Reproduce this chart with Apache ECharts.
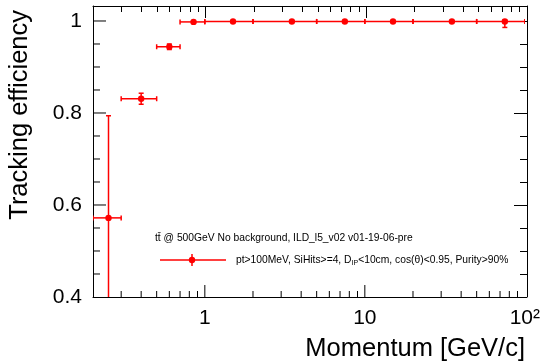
<!DOCTYPE html>
<html>
<head>
<meta charset="utf-8">
<script src="https://cdn.jsdelivr.net/npm/echarts@6/dist/echarts.min.js"></script>
<style>
  html, body { margin: 0; padding: 0; background: #fff; }
  #chart { width: 543px; height: 362px; }
</style>
</head>
<body>
<div id="chart"></div>
<script>
// momentum bins [GeV/c]
const binCenter = [0.25, 0.4, 0.6, 0.85, 1.5, 3.5, 7.5, 15, 35, 75];
const binLow = [0.2, 0.3, 0.5, 0.7, 1, 2, 5, 10, 20, 50];
const binHigh = [0.3, 0.5, 0.7, 1, 2, 5, 10, 20, 50, 100];
// tracking efficiency and its errors
const efficiency = [0.572, 0.831, 0.944, 0.998, 0.999, 0.999, 0.999, 0.999, 0.999, 0.999];
const errDown = [0.222, 0.012, 0.006, 0.003, 0.001, 0.001, 0.001, 0.001, 0.001, 0.013];
const errUp = [0.222, 0.012, 0.006, 0.002, 0.001, 0.001, 0.001, 0.001, 0.001, 0.003];

// tick positions for the bottom and left frame edges
const xMajorTicks = [1, 10];
const xMinorTicks = [0.3, 0.4, 0.5, 0.6, 0.7, 0.8, 0.9, 2, 3, 4, 5, 6, 7, 8, 9, 20, 30, 40, 50, 60, 70, 80, 90];
const yMajorTicks = [0.6, 0.8, 1];
const yMinorTicks = [0.45, 0.5, 0.55, 0.65, 0.7, 0.75, 0.85, 0.9, 0.95];

const legendHeader = "tt\u0304 @ 500GeV No background, ILD_l5_v02 v01-19-06-pre";
const legendEntry = "{n|pt>100MeV, SiHits>=4, D}{s|IP}{n|<10cm, cos(\u03b8)<0.95, Purity>90%}";
const FONT = "'Liberation Sans', Arial, Helvetica, sans-serif";
const RED = "#ff0000";
const xMin = 0.2, xMax = 100, yMin = 0.4, yMax = 1.0326;
const plotRect = { left: 93, right: 16, top: 6, bottom: 65 };

// top / right mirror axes: line + inward ticks (these render fine)
function xMirror() {
  return {
    type: "log", logBase: 10, min: xMin, max: xMax, position: "top", gridIndex: 1,
    axisLine: { show: true, onZero: false, lineStyle: { color: "#000", width: 1 } },
    axisTick: { show: true, inside: true, length: 12, lineStyle: { color: "#000", width: 1 } },
    minorTick: { show: true, splitNumber: 9, length: 6, lineStyle: { color: "#000", width: 1 } },
    axisLabel: { show: false },
    splitLine: { show: false }
  };
}

function yMirror() {
  return {
    type: "value", min: yMin, max: yMax, interval: 0.2, position: "right", gridIndex: 1,
    axisLine: { show: true, onZero: false, lineStyle: { color: "#000", width: 1 } },
    axisTick: { show: true, inside: true, length: 13, lineStyle: { color: "#000", width: 1 } },
    minorTick: { show: true, splitNumber: 4, length: 7, lineStyle: { color: "#000", width: 1 } },
    axisLabel: { show: false },
    splitLine: { show: false }
  };
}

function renderErrorPoint(params, api) {
  const x = api.value(0), y = api.value(1);
  const c = api.coord([x, y]);
  const l = api.coord([api.value(2), y]);
  const r = api.coord([api.value(3), y]);
  const lo = api.coord([x, api.value(4)]);
  const hi = api.coord([x, api.value(5)]);
  const st = { stroke: RED, lineWidth: 1.5 };
  const line = (x1, y1, x2, y2) => ({ type: "line", shape: { x1, y1, x2, y2 }, style: st });
  return {
    type: "group",
    children: [
      line(l[0], l[1], r[0], r[1]),
      line(lo[0], lo[1], hi[0], hi[1]),
      line(l[0], l[1] - 2.5, l[0], l[1] + 2.5),
      line(r[0], r[1] - 2.5, r[0], r[1] + 2.5),
      line(lo[0] - 2.5, lo[1], lo[0] + 2.5, lo[1]),
      line(hi[0] - 2.5, hi[1], hi[0] + 2.5, hi[1]),
      { type: "circle", shape: { cx: c[0], cy: c[1], r: 3.2 }, style: { fill: RED } }
    ]
  };
}

// bottom/left inward ticks, placed through the axis scales
// kind: 0 x major, 1 x minor, 2 y major, 3 y minor
function renderFrameTick(params, api) {
  const p = api.coord([api.value(0), api.value(1)]);
  const kind = api.value(2);
  const len = kind === 0 ? 12 : kind === 1 ? 6 : kind === 2 ? 13 : 7;
  const shape = kind < 2
    ? { x1: p[0], y1: p[1], x2: p[0], y2: p[1] - len }
    : { x1: p[0], y1: p[1], x2: p[0] + len, y2: p[1] };
  return { type: "line", shape, style: { stroke: "#000", lineWidth: 1 } };
}

const points = binCenter.map((p, i) => [p, efficiency[i], binLow[i], binHigh[i], efficiency[i] - errDown[i], efficiency[i] + errUp[i]]);
const frameTicks = [].concat(
  xMajorTicks.map((v) => [v, yMin, 0]),
  xMinorTicks.map((v) => [v, yMin, 1]),
  yMajorTicks.map((v) => [xMin, v, 2]),
  yMinorTicks.map((v) => [xMin, v, 3])
);

const chart = echarts.init(document.getElementById("chart"), null, { renderer: "canvas" });
chart.setOption({
  animation: false,
  backgroundColor: "#fff",
  grid: [Object.assign({}, plotRect), Object.assign({}, plotRect)],
  xAxis: [
    {
      type: "log", logBase: 10, min: xMin, max: xMax, position: "bottom", gridIndex: 0,
      axisLine: { show: true, onZero: false, lineStyle: { color: "#000", width: 1 } },
      axisTick: { show: false }, minorTick: { show: false }, splitLine: { show: false },
      axisLabel: {
        color: "#000", fontFamily: FONT, fontSize: 21, margin: 11,
        formatter: (v) => (v < 0.5 ? "" : Math.abs(v - 100) < 1e-6 ? "10\u00b2" : String(Math.round(v)))
      }
    },
    xMirror()
  ],
  yAxis: [
    {
      type: "value", min: yMin, max: yMax, interval: 0.2, position: "left", gridIndex: 0,
      axisLine: { show: true, onZero: false, lineStyle: { color: "#000", width: 1 } },
      axisTick: { show: false }, minorTick: { show: false }, splitLine: { show: false },
      axisLabel: {
        color: "#000", fontFamily: FONT, fontSize: 21, margin: 11,
        formatter: (v) => (v > 1.01 ? "" : Math.abs(v - 1) < 1e-6 ? "1" : v.toFixed(1))
      }
    },
    yMirror()
  ],
  series: [
    {
      type: "custom",
      xAxisIndex: 0, yAxisIndex: 0,
      clip: false,
      silent: true,
      data: frameTicks,
      encode: { x: 0, y: 1 },
      renderItem: renderFrameTick
    },
    {
      type: "custom",
      xAxisIndex: 0, yAxisIndex: 0,
      clip: true,
      data: points,
      encode: { x: 0, y: 1 },
      renderItem: renderErrorPoint
    }
  ],
  graphic: [
    {
      type: "text", x: 20, y: 10, rotation: Math.PI / 2,
      style: { text: "Tracking efficiency", font: "25.5px " + FONT, fill: "#000", align: "right", verticalAlign: "middle" }
    },
    {
      type: "text", x: 525, y: 349,
      style: { text: "Momentum [GeV/c]", font: "25.5px " + FONT, fill: "#000", align: "right", verticalAlign: "middle" }
    },
    {
      type: "text", x: 155, y: 238,
      style: { text: legendHeader, font: "10.3px " + FONT, fill: "#000", align: "left", verticalAlign: "middle" }
    },
    { type: "line", shape: { x1: 160, y1: 260, x2: 226, y2: 260 }, style: { stroke: RED, lineWidth: 1.5 } },
    { type: "line", shape: { x1: 192, y1: 254, x2: 192, y2: 266 }, style: { stroke: RED, lineWidth: 1.5 } },
    { type: "circle", shape: { cx: 192, cy: 260, r: 3.2 }, style: { fill: RED } },
    {
      type: "text", x: 236, y: 260,
      style: {
        text: legendEntry, fill: "#000", align: "left", verticalAlign: "middle",
        rich: {
          n: { fontFamily: FONT, fontSize: 10.3, fill: "#000" },
          s: { fontFamily: FONT, fontSize: 7, fill: "#000", padding: [6, 0, 0, 0] }
        }
      }
    }
  ]
});
</script>
</body>
</html>
